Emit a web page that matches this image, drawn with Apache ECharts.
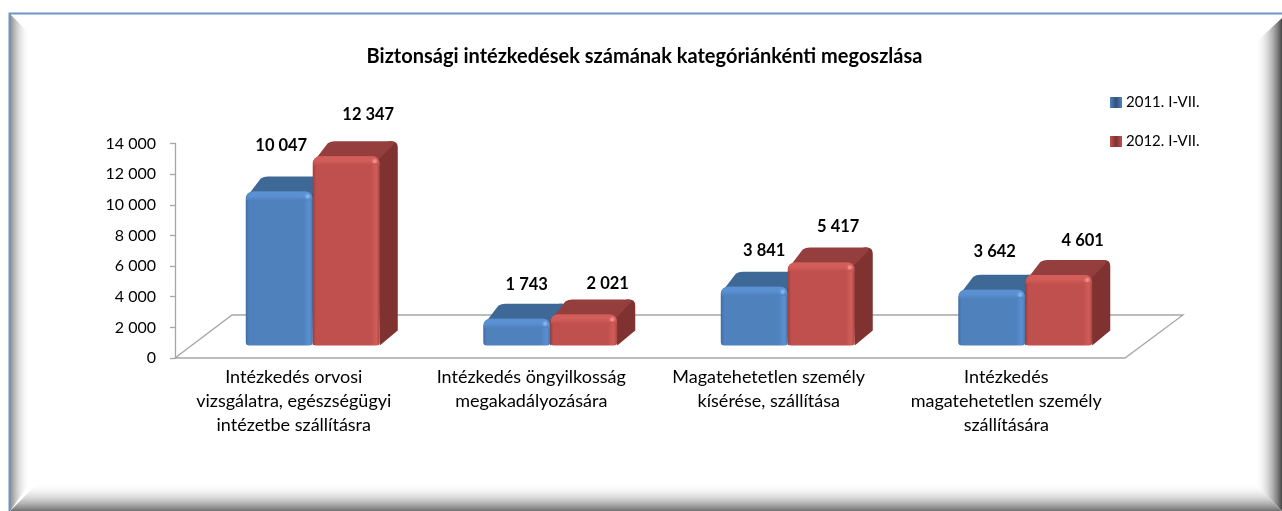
<!DOCTYPE html>
<html><head><meta charset="utf-8">
<style>html,body{margin:0;padding:0;background:#fff}#c{width:1282px;height:511px}</style>
<script src="https://cdn.jsdelivr.net/npm/echarts@6/dist/echarts.min.js"></script>
</head><body><div id="c"></div>
<script>
const categories = [
  'Intézkedés orvosi\nvizsgálatra, egészségügyi\nintézetbe szállításra',
  'Intézkedés öngyilkosság\nmegakadályozására',
  'Magatehetetlen személy\nkísérése, szállítása',
  'Intézkedés\nmagatehetetlen személy\nszállítására'
];
const seriesNames = ['2011. I-VII.', '2012. I-VII.'];
const values2011 = [10047, 1743, 3841, 3642];
const values2012 = [12347, 2021, 5417, 4601];
const yTicks = {min: 0, max: 14000, interval: 2000};
const titleText = 'Biztonsági intézkedések számának kategóriánkénti megoszlása';

// manual data-label nudges of the original chart (dx, dy from the bar's front-top centre)
const labelNudge2011 = [[2,-46],[10,-34],[10,-36],[3,-38]];
const labelNudge2012 = [[22,-42],[24,-31],[17,-36],[24,-34]];

const FONT = 'Lato, Carlito, "Open Sans", sans-serif';
const fmt = v => String(v).replace(/\B(?=(\d{3})+(?!\d))/g, ' ');
const GRID = {left:175, right:157, top:143.5, bottom:153};
const DX = 19, DY = 12.5, DEPTH_X = 18, DEPTH_Y = 15;

const palettes = [
 {front:'#4F81BD', dark:'#3F6CA3', light:'#5B90D2', top:'#3E6896', side:'#2F527A', hi:'#7DB4F0', rim:'#4A76AC'},
 {front:'#C0504D', dark:'#9E3D3A', light:'#D25D59', top:'#943F3D', side:'#7F3230', hi:'#F08A83', rim:'#A64542'}
];

function barItem(sIdx, nudges){
  const p = palettes[sIdx];
  return function(params, api){
    const i = api.value(0);
    const v = api.value(1);
    const base = api.coord([i, 0]);
    const tip = api.coord([i, v]);
    const band = api.size([1, 0])[0];
    const w = band * 0.282;
    const x = base[0] + DX + (sIdx === 0 ? -w : 0);
    const yB = base[1] - DY;
    const yT = tip[1] - DY;
    const h = yB - yT;
    const r = Math.min(7, h/3);
    const X = x + w, DXX = DEPTH_X, DYY = DEPTH_Y;
    const children = [];
    // side face
    children.push({type:'path', shape:{pathData:
      `M${X-3} ${yT+2} L${X+DXX-9} ${yT-DYY} L${X+DXX-6} ${yT-DYY} Q${X+DXX} ${yT-DYY} ${X+DXX} ${yT-DYY+6} L${X+DXX} ${yB-DYY} L${X} ${yB} Z`},
      style:{fill:p.side}});
    // top face
    children.push({type:'path', shape:{pathData:
      `M${x+2} ${yT+4} L${x+DXX-3} ${yT-DYY+2} Q${x+DXX} ${yT-DYY} ${x+DXX+4} ${yT-DYY} L${X+DXX-6} ${yT-DYY} Q${X+DXX-2} ${yT-DYY} ${X+DXX-5} ${yT-DYY+4} L${X-2} ${yT+4} Z`},
      style:{fill:p.top}});
    // front face
    children.push({type:'rect', shape:{x:x, y:yT, width:w, height:h, r:[r,r,r*0.5,r*0.5]},
      style:{fill:{type:'linear',x:0,y:0,x2:1,y2:0,colorStops:[
        {offset:0,color:p.dark},{offset:0.05,color:p.front},{offset:0.86,color:p.front},{offset:0.95,color:p.light},{offset:1,color:p.rim}]}}});
    // top bevel
    children.push({type:'rect', shape:{x:x+0.5, y:yT, width:w-1, height:Math.min(9,h/2), r:[r,r,0,0]},
      style:{fill:{type:'linear',x:0,y:0,x2:0,y2:1,colorStops:[
        {offset:0,color:p.light},{offset:0.5,color:p.light},{offset:1,color:p.front}]}}});
    // highlight
    children.push({type:'circle', shape:{cx:x+w-5, cy:yT+5, r:2}, style:{fill:p.hi, shadowBlur:3, shadowColor:p.hi}});
    // value label
    const n = nudges[i];
    children.push({type:'text', style:{text:fmt(v), x:x+w/2+n[0], y:yT+n[1], align:'center', verticalAlign:'middle',
      font:'bold 16.5px '+FONT, fill:'#000'}, z2:30});
    return {type:'group', children};
  };
}

function floorItem(params, api){
  const g = params.coordSys;
  const x0=g.x, x1=g.x+g.width, y0=g.y+g.height;
  const dx=57, dy=43;
  const st={fill:'none', stroke:'#A6A6A6', lineWidth:1.3};
  return {type:'polyline', shape:{points:[[x0,y0],[x0+dx,y0-dy],[x1+58,y0-dy],[x1,y0],[x0,y0]]}, style:st, silent:true};
}

// decorative bevelled frame
const FX=9, FY=13, W=1282, H=511;
const framePolys = [
 {pts:[[10,14],[30,34],[30,483],[10,H]], x:0,y:0,x2:1,y2:0, from:'#8a8a8a', to:'rgba(255,255,255,0)'},
 {pts:[[W,18],[W-27,43],[W-27,483],[W,H]], x:1,y:0,x2:0,y2:0, from:'#454545', to:'rgba(255,255,255,0)'},
 {pts:[[10,H],[38,483],[W-27,483],[W,H]], x:0,y:1,x2:0,y2:0, from:'#707070', to:'rgba(255,255,255,0)'}
];
const frame = framePolys.map(f=>({type:'polygon', z:-10, silent:true, shape:{points:f.pts},
  style:{fill:{type:'linear',x:f.x,y:f.y,x2:f.x2,y2:f.y2,colorStops:[{offset:0,color:f.from},{offset:1,color:f.to}]}}}));
frame.push({type:'polyline', z:-9, silent:true, shape:{points:[[FX+0.5,H],[FX+0.5,FY+0.5],[W,FY+0.5]]},
  style:{fill:'none', stroke:'#6F93C4', lineWidth:2}});

const iconFill = p => ({type:'linear',x:0,y:0,x2:1,y2:0,colorStops:[{offset:0,color:p.front},{offset:0.5,color:p.side},{offset:1,color:p.front}]});

const chart = echarts.init(document.getElementById('c'), null, {renderer:'canvas'});
chart.setOption({
  animation:false,
  backgroundColor:'#fff',
  textStyle:{fontFamily:FONT},
  title:{text:titleText, left:639.5, top:42, textAlign:'center', textStyle:{fontFamily:FONT, fontSize:20, fontWeight:'bold', color:'#000'}},
  legend:{orient:'vertical', left:1105, top:90, itemGap:24, itemWidth:12, itemHeight:11,
    textStyle:{fontFamily:FONT, fontSize:15, color:'#000', padding:[0,0,0,-1]},
    data:seriesNames.map((n,i)=>({name:n, icon:'rect', itemStyle:{color:iconFill(palettes[i])}}))},
  grid:{left:GRID.left, right:GRID.right, top:GRID.top, bottom:GRID.bottom, containLabel:false},
  xAxis:{type:'category', data:categories, boundaryGap:true,
    axisLine:{show:false}, axisTick:{show:false},
    axisLabel:{interval:0, color:'#000', fontFamily:FONT, fontSize:18, lineHeight:24, margin:7.5}},
  yAxis:{type:'value', min:yTicks.min, max:yTicks.max, interval:yTicks.interval,
    splitLine:{show:false},
    axisLine:{show:true, lineStyle:{color:'#A6A6A6', width:1.3}},
    axisTick:{show:true, length:5, lineStyle:{color:'#A6A6A6', width:1.3}},
    axisLabel:{color:'#000', fontFamily:FONT, fontSize:16, margin:19, formatter:v=>fmt(v)}},
  graphic:{elements:frame},
  series:[
    {type:'custom', name:'floor', silent:true, legendHoverLink:false, renderItem:floorItem, data:[[0,0]], z:1, encode:{x:0,y:1}},
    {type:'custom', name:seriesNames[0], renderItem:barItem(0,labelNudge2011), data:values2011.map((v,i)=>[i,v]), encode:{x:0,y:1}, z:3, itemStyle:{color:palettes[0].front}},
    {type:'custom', name:seriesNames[1], renderItem:barItem(1,labelNudge2012), data:values2012.map((v,i)=>[i,v]), encode:{x:0,y:1}, z:4, itemStyle:{color:palettes[1].front}}
  ]
});
</script></body></html>
